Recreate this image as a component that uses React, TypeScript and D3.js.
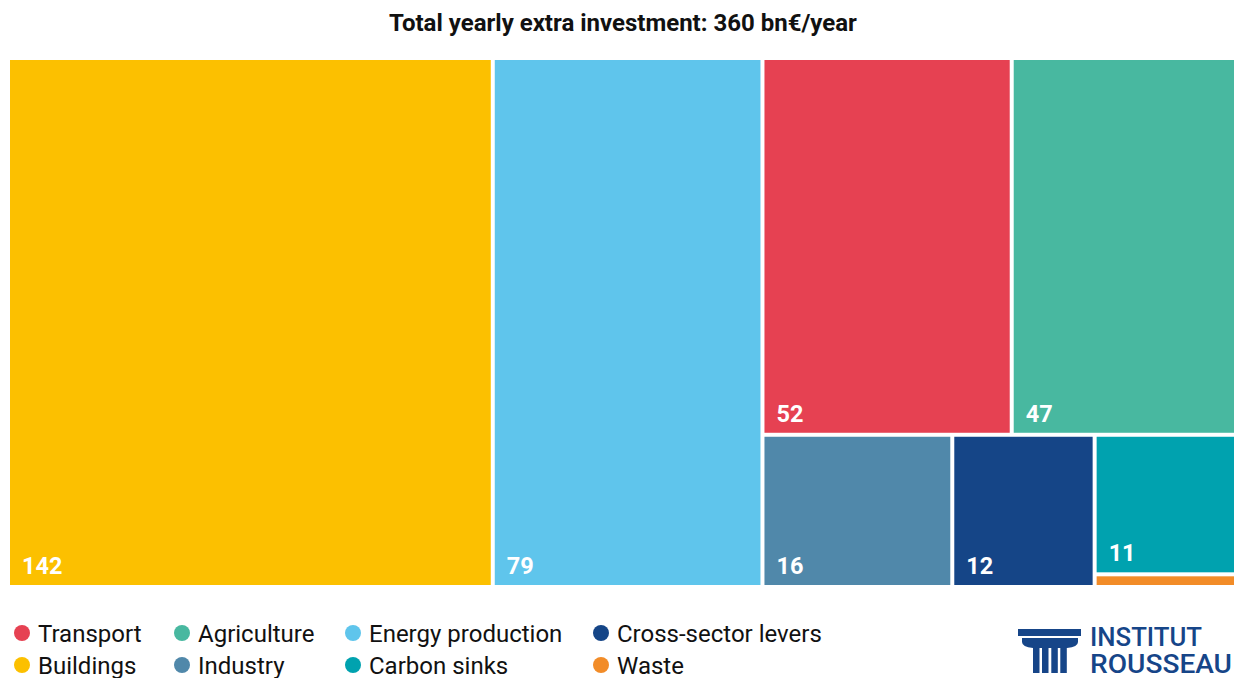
import React from "react";
import * as d3 from "d3";

const categories = ["Buildings", "Energy production", "Transport", "Agriculture", "Industry", "Cross-sector levers", "Carbon sinks", "Waste"];
const values = [142, 79, 52, 47, 16, 12, 11, 1];
const colors = ["#FCC000", "#5FC5EC", "#E64152", "#48B8A0", "#5088AA", "#154587", "#00A2AF", "#F28C28"];

const legendColumns = [
  ["Transport", "Buildings"],
  ["Agriculture", "Industry"],
  ["Energy production", "Carbon sinks"],
  ["Cross-sector levers", "Waste"],
];
const legendX = [22, 182, 353, 601];

const title = "Total yearly extra investment: 360 bn€/year";

const W = 1234;
const H = 678;
const FONT = "Roboto, 'Noto Sans', sans-serif";

export default function App() {
  const data = categories.map((c, i) => ({ name: c, value: values[i], color: colors[i] }));
  const root = d3
    .hierarchy<any>({ name: "root", children: data })
    .sum((d: any) => d.value || 0)
    .sort((a, b) => (b.value || 0) - (a.value || 0));
  d3.treemap<any>()
    .tile(d3.treemapSquarify.ratio(1))
    .size([1226, 526])
    .paddingInner(3)
    .round(false)(root);
  const ox = 9;
  const oy = 59;
  const leaves = root.leaves() as any[];
  const colorOf = (n: string) => colors[categories.indexOf(n)];

  return (
    <div style={{ position: "absolute", left: 0, top: 0, width: W, height: H, background: "#fff" }}>
      <svg width={W} height={H} style={{ display: "block" }}>
        <text x={623} y={31} textAnchor="middle" fontFamily={FONT} fontWeight={700} fontSize={24} fill="#111">
          {title}
        </text>
        <g transform={`translate(${ox},${oy})`}>
          {leaves.map((l) => (
            <g key={l.data.name}>
              <rect
                x={l.x0 + 1}
                y={l.y0 + 1}
                width={Math.max(0, l.x1 - l.x0 - 1)}
                height={Math.max(0, l.y1 - l.y0 - 1)}
                fill={l.data.color}
              />
              {l.y1 - l.y0 > 30 && (
                <text
                  x={l.x0 + 13}
                  y={l.y1 - 11}
                  fontFamily={FONT}
                  fontWeight={700}
                  fontSize={23.5}
                  fill="#fff"
                >
                  {l.data.value}
                </text>
              )}
            </g>
          ))}
        </g>
        {legendColumns.map((col, ci) =>
          col.map((name, ri) => (
            <g key={name} transform={`translate(${legendX[ci]},${633 + ri * 32})`}>
              <circle cx={0} cy={0} r={8} fill={colorOf(name)} />
              <text x={16} y={8.5} fontFamily={FONT} fontSize={24} fill="#111">
                {name}
              </text>
            </g>
          ))
        )}
        <g fill="#164588">
          <rect x={1018} y={629} width={63} height={7} />
          <path d="M1022,638 L1078,638 L1078,642 Q1078,647 1067,648 L1033,648 Q1022,647 1022,642 Z" />
          <rect x={1033} y={646} width={6.5} height={27} />
          <rect x={1042} y={646} width={6.5} height={27} />
          <rect x={1051.3} y={646} width={6.5} height={27} />
          <rect x={1060.3} y={646} width={6.5} height={27} />
          <text x={1090} y={646} fontFamily={FONT} fontWeight={500} fontSize={25} textLength={112} lengthAdjust="spacingAndGlyphs">
            INSTITUT
          </text>
          <text x={1090} y={673} fontFamily={FONT} fontWeight={500} fontSize={25} textLength={142} lengthAdjust="spacingAndGlyphs">
            ROUSSEAU
          </text>
        </g>
      </svg>
    </div>
  );
}
